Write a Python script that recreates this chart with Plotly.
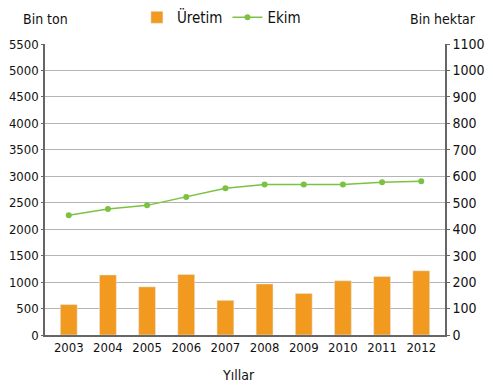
import plotly.graph_objects as go

years = ["2003", "2004", "2005", "2006", "2007", "2008", "2009", "2010", "2011", "2012"]
uretim = [575, 1135, 910, 1145, 655, 965, 785, 1025, 1105, 1215]
ekim = [453, 476, 490, 522, 555, 569, 569, 569, 577, 581]
left_ticks = list(range(0, 5501, 500))
right_ticks = list(range(0, 1101, 100))

font_fam = "DejaVu Sans Condensed, Liberation Sans Narrow, Noto Sans, sans-serif"
orange = "#F29A1F"
green = "#7CC242"

fig = go.Figure()
fig.add_trace(go.Bar(x=years, y=uretim, name="Üretim", marker_color=orange,
                     width=0.43, yaxis="y"))
fig.add_trace(go.Scatter(x=years, y=ekim, name="Ekim", mode="lines+markers",
                         line=dict(color=green, width=1.5),
                         marker=dict(color=green, size=6), yaxis="y2"))

fig.update_layout(
    width=485, height=381,
    margin=dict(l=37, r=48, t=36, b=54, autoexpand=False),
    paper_bgcolor="white", plot_bgcolor="white",
    font=dict(family=font_fam, size=15, color="#111"),
    showlegend=True,
    legend=dict(orientation="h", x=0.441, xanchor="center", y=0.975, yanchor="middle",
                yref="container", font=dict(size=15)),
    xaxis=dict(showline=True, linecolor="#666", linewidth=1.5, ticks="",
               automargin=False, tickfont=dict(size=13)),
    yaxis=dict(range=[0, 5500], tickvals=left_ticks, showgrid=True,
               gridcolor="#b5b5b5", gridwidth=1, showline=True, linecolor="#666",
               linewidth=1.5, ticks="outside", ticklen=2, tickcolor="#666",
               zeroline=False, tickfont=dict(size=13), automargin=False),
    yaxis2=dict(range=[0, 1100], tickvals=right_ticks, overlaying="y", side="right",
                showgrid=False, showline=True, linecolor="#666", linewidth=1.5,
                ticks="outside", ticklen=3, tickcolor="#666",
                zeroline=False, tickfont=dict(size=14), automargin=False),
)
fig.add_annotation(text="Bin ton", xref="paper", yref="paper", x=0.0, y=1.086,
                   xanchor="center", yanchor="middle", showarrow=False, font=dict(size=14))
fig.add_annotation(text="Bin hektar", xref="paper", yref="paper", x=0.996, y=1.086,
                   xanchor="center", yanchor="middle", showarrow=False, font=dict(size=14))
fig.add_annotation(text="Yıllar", xref="paper", yref="paper", x=0.4825, y=-0.137,
                   xanchor="center", yanchor="middle", showarrow=False, font=dict(size=14))

fig.write_html("out.html")
